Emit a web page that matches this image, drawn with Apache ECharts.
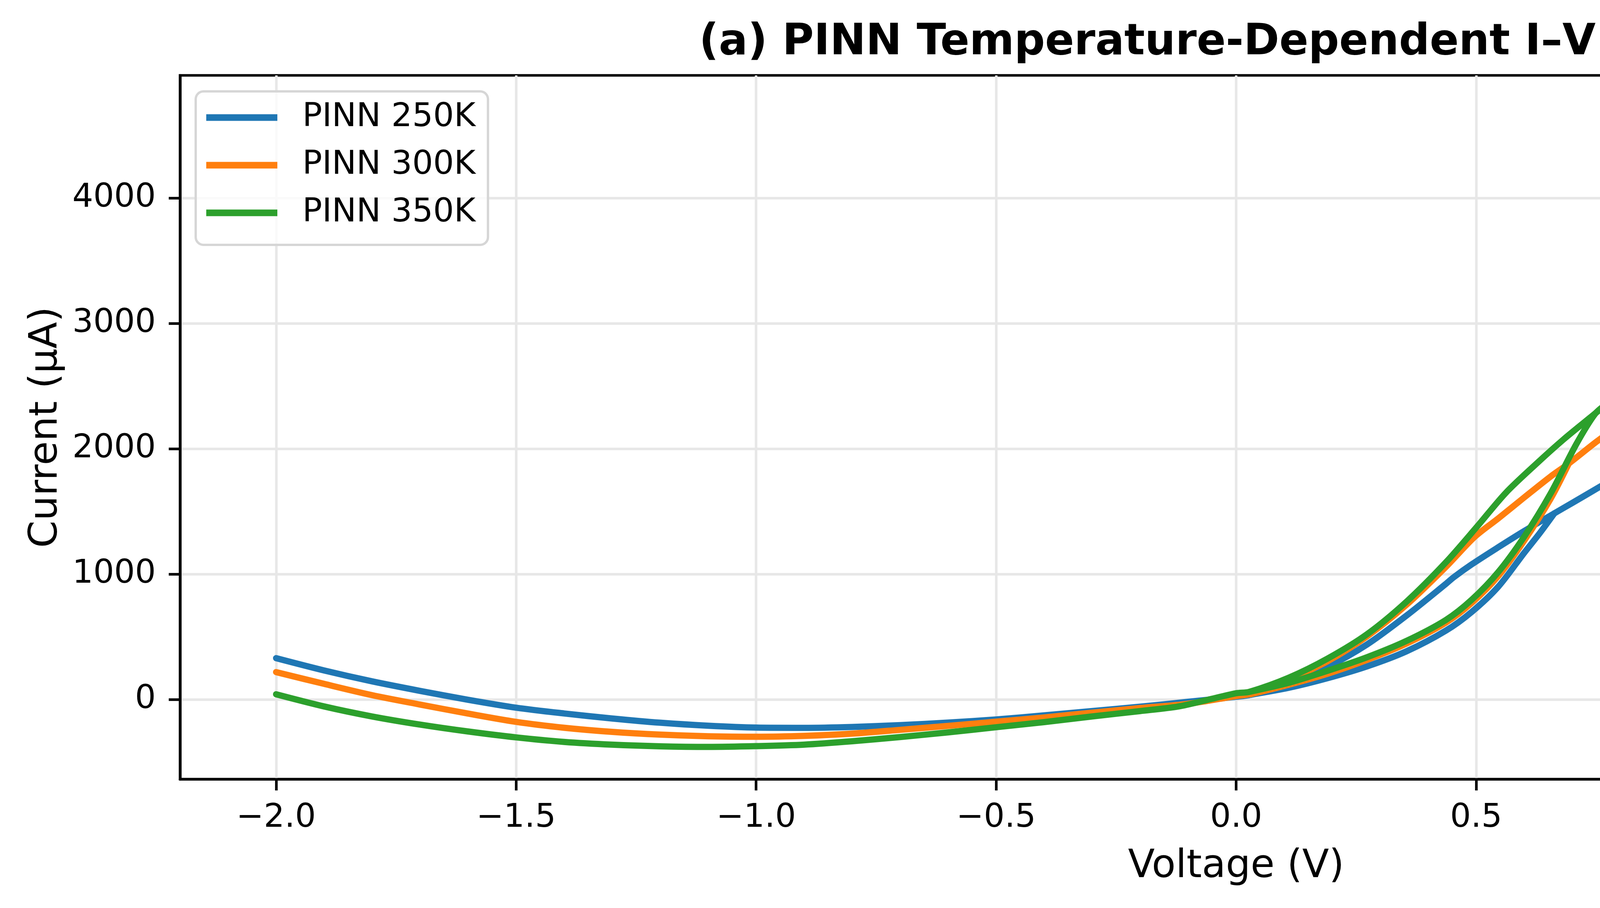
<!DOCTYPE html>
<html>
<head>
<meta charset="utf-8">
<script src="https://cdn.jsdelivr.net/npm/echarts@6/dist/echarts.min.js"></script>
<style>
html,body{margin:0;padding:0;background:#fff;}
#chart{width:5930px;height:2325px;}
</style>
</head>
<body>
<div id="chart"></div>
<script>
// ---- data ----
const xTicks = [-2.0, -1.5, -1.0, -0.5, 0.0, 0.5, 1.0, 1.5, 2.0];
const yTicks = [0, 1000, 2000, 3000, 4000];
const seriesNames = ['PINN 250K', 'PINN 300K', 'PINN 350K'];

const v250 = [-2.0,-1.9,-1.8,-1.7,-1.6,-1.5,-1.4,-1.3,-1.2,-1.1,-1.0,-0.9,-0.8,-0.7,-0.6,-0.5,-0.4,-0.3,-0.2,-0.1,0.0,
  0.03,0.11,0.191,0.273,0.355,0.437,0.453,0.491,0.546,0.60,0.663,0.70,0.757,0.80,0.876,
  1.0,1.1,1.2,1.3,1.4,1.5,1.6,1.7,1.8,1.9,2.0];
const i250 = [330,232,145,69,-2,-65,-111,-151,-185,-209,-224,-226,-219,-204,-184,-159,-126,-92,-57,-18,22,
  38,134,262,440,670,923,975,1079,1215,1344,1486,1568,1696,1795,1959,
  2199,2370,2510,2620,2705,2765,2812,2846,2866,2870,2860];
const v250Loop = [0.03,0.11,0.191,0.273,0.355,0.437,0.491,0.546,0.60,0.633,0.663];
const i250Loop = [38,94,171,265,385,550,700,900,1170,1330,1486];

const v300 = [-2.0,-1.9,-1.8,-1.7,-1.6,-1.5,-1.4,-1.3,-1.2,-1.1,-1.0,-0.9,-0.8,-0.7,-0.6,-0.5,-0.4,-0.3,-0.2,-0.1,0.0,
  0.03,0.11,0.191,0.273,0.355,0.437,0.497,0.546,0.60,0.655,0.693,0.75,0.8,0.9,
  1.0,1.1,1.2,1.3,1.4,1.5,1.6,1.7,1.8,1.9,2.0];
const i300 = [219,125,35,-40,-112,-178,-225,-258,-280,-293,-297,-290,-272,-242,-210,-177,-143,-105,-68,-34,28,
  45,161,307,505,756,1058,1298,1445,1612,1779,1883,2055,2195,2440,
  2679,2900,3095,3270,3420,3548,3655,3735,3790,3818,3829];
const v300Loop = [0.03,0.11,0.191,0.273,0.355,0.437,0.491,0.546,0.60,0.655,0.693];
const i300Loop = [42,119,207,317,447,614,772,985,1267,1601,1883];

const v350 = [-2.0,-1.9,-1.8,-1.7,-1.6,-1.5,-1.4,-1.3,-1.2,-1.1,-1.0,-0.9,-0.8,-0.7,-0.6,-0.5,-0.4,-0.3,-0.2,-0.12,-0.06,0.0,
  0.028,0.11,0.191,0.273,0.355,0.437,0.502,0.562,0.628,0.682,0.737,0.772,0.801,0.876,
  1.0,1.1,1.2,1.3,1.4,1.5,1.6,1.7,1.8,1.9,2.0];
const i350 = [42,-55,-135,-200,-255,-302,-338,-360,-373,-378,-372,-360,-333,-299,-262,-221,-180,-135,-92,-55,-3,50,
  62,175,328,522,781,1095,1380,1650,1890,2075,2248,2359,2460,2690,
  3056,3330,3580,3810,4020,4200,4355,4480,4580,4660,4725];
const v350Loop = [0.028,0.11,0.191,0.273,0.355,0.437,0.491,0.546,0.60,0.655,0.709,0.748,0.772];
const i350Loop = [62,134,230,338,468,635,797,1017,1299,1643,2040,2280,2359];

const colors = ['#1f77b4', '#ff7f0e', '#2ca02c'];

// ---- build ----
const pair = (vs, is) => vs.map((v, k) => [v, is[k]]);
const FONT = 'DejaVu Sans';
const LW = 16;

function lineSeries(name, color, data) {
  return {
    name: name, type: 'line', data: data,
    showSymbol: false, symbol: 'none',
    smooth: 0.3,
    lineStyle: {color: color, width: LW, cap: 'round', join: 'round'},
    itemStyle: {color: color},
    emphasis: {disabled: true},
    animation: false
  };
}

const series = [
  lineSeries(seriesNames[0], colors[0], pair(v250, i250)),
  lineSeries(seriesNames[0], colors[0], pair(v250Loop, i250Loop)),
  lineSeries(seriesNames[1], colors[1], pair(v300, i300)),
  lineSeries(seriesNames[1], colors[1], pair(v300Loop, i300Loop)),
  lineSeries(seriesNames[2], colors[2], pair(v350, i350)),
  lineSeries(seriesNames[2], colors[2], pair(v350Loop, i350Loop))
];

const fmtX = v => (v < 0 ? '\u2212' : '') + Math.abs(v).toFixed(1);
const fmtY = v => (v < 0 ? '\u2212' : '') + String(Math.abs(Math.round(v)));

const chart = echarts.init(document.getElementById('chart'), null, {renderer: 'canvas', devicePixelRatio: 1});
chart.setOption({
  animation: false,
  backgroundColor: '#ffffff',
  textStyle: {fontFamily: FONT, color: '#000'},
  title: {
    text: '(a) PINN Temperature-Dependent I\u2013V Curves',
    left: 3164, top: 50, textAlign: 'center',
    textStyle: {fontFamily: FONT, fontSize: 110, fontWeight: 'bold', color: '#000'}
  },
  grid: {left: 461, right: 62, top: 193, bottom: 330, show: true,
    borderColor: '#000', borderWidth: 6.7, backgroundColor: 'transparent'},
  legend: {
    data: seriesNames, orient: 'vertical', left: 501, top: 234,
    padding: [25, 32, 40, 27], itemWidth: 182, itemHeight: 17, itemGap: 38,
    icon: 'rect',
    backgroundColor: 'rgba(255,255,255,0.8)', borderColor: '#d6d6d6', borderWidth: 6, borderRadius: 20,
    textStyle: {fontFamily: FONT, fontSize: 84, color: '#000', lineHeight: 84, padding: [0, 0, 0, 59]}
  },
  xAxis: {
    type: 'value', min: -2.2, max: 2.2,
    name: 'Voltage (V)', nameLocation: 'middle', nameGap: 175,
    nameTextStyle: {fontFamily: FONT, fontSize: 100, color: '#000'},
    axisLine: {show: true, onZero: false, lineStyle: {color: '#000', width: 6.7}},
    axisTick: {show: true, length: 29, customValues: xTicks, lineStyle: {color: '#000', width: 6.7}},
    axisLabel: {customValues: xTicks, formatter: fmtX, fontFamily: FONT, fontSize: 84, color: '#000', margin: 58},
    splitLine: {show: true, lineStyle: {color: '#e7e7e7', width: 6.5}}
  },
  yAxis: {
    type: 'value', min: -635, max: 4980,
    name: 'Current (\u03bcA)', nameLocation: 'middle', nameGap: 292,
    nameTextStyle: {fontFamily: FONT, fontSize: 100, color: '#000'},
    axisLine: {show: true, onZero: false, lineStyle: {color: '#000', width: 6.7}},
    axisTick: {show: true, length: 29, customValues: yTicks, lineStyle: {color: '#000', width: 6.7}},
    axisLabel: {customValues: yTicks, formatter: fmtY, fontFamily: FONT, fontSize: 84, color: '#000', margin: 62},
    splitLine: {show: true, lineStyle: {color: '#e7e7e7', width: 6.5}}
  },
  series: series
});
</script>
</body>
</html>
